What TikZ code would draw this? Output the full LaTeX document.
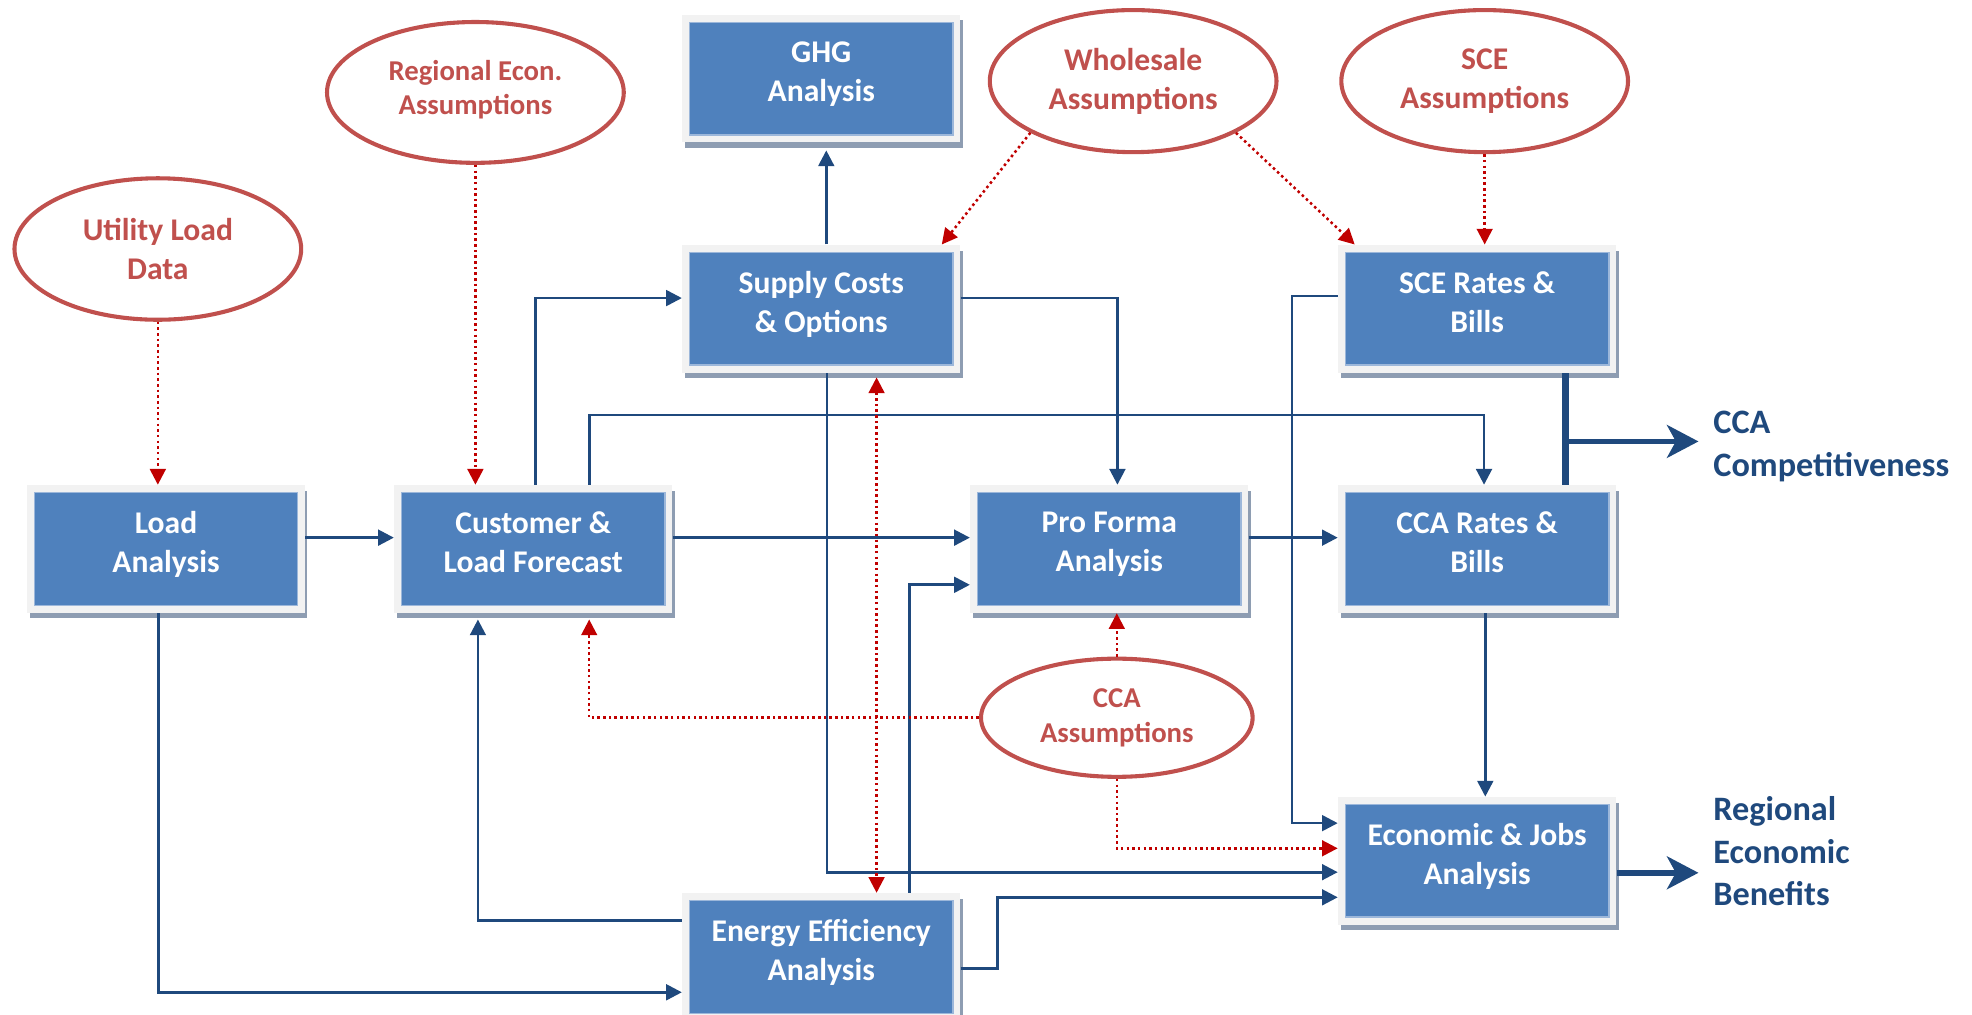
\documentclass[tikz,border=0pt]{standalone}
\usepackage{fontspec}
\setmainfont{Carlito}
\usetikzlibrary{shapes.geometric,arrows.meta,shadows,calc}
\definecolor{boxblue}{HTML}{4F81BD}
\definecolor{boxedge}{HTML}{9CB7DA}
\definecolor{framegray}{HTML}{F2F2F2}
\definecolor{shadowc}{HTML}{8E9DB2}
\definecolor{ellred}{HTML}{C0504D}
\definecolor{dotred}{HTML}{C00000}
\definecolor{flowblue}{HTML}{1F497D}
\begin{document}
\begin{tikzpicture}[x=0.02cm,y=-0.02cm,
  >={Triangle[length=0.25cm,width=0.25cm]},
  stepbox/.style={rectangle, inner sep=0pt, minimum width=4.42cm, minimum height=2.03cm, fill=framegray,
    drop shadow={shadow xshift=0.04cm, shadow yshift=-0.09cm, fill=shadowc, opacity=1},
    path picture={\fill[boxblue, draw=boxedge, line width=0.6pt] ([shift={(0.115cm,0.12cm)}]path picture bounding box.south west) rectangle ([shift={(-0.115cm,-0.12cm)}]path picture bounding box.north east);},
    text=white, font=\bfseries\fontsize{14.3}{17.6}\selectfont, align=center,
    execute at begin node=\strut, execute at end node={\rule[-6.3pt]{0pt}{1pt}}},
  assume/.style={ellipse, draw=ellred, line width=0.065cm, fill=white, inner sep=0pt, text=ellred,
    font=\bfseries\fontsize{14.3}{17.6}\selectfont, align=center},
  smallfont/.style={font=\bfseries\fontsize{13}{15.6}\selectfont},
  flow/.style={draw=flowblue, line width=0.042cm, ->},
  dotflow/.style={draw=dotred, line width=0.04cm, dash pattern=on 0.04cm off 0.05cm, ->},
  bigflow/.style={draw=flowblue, line width=0.09cm, -{Stealth[length=0.5cm,width=0.52cm,inset=0.14cm]}},
  outlabel/.style={text=flowblue, font=\bfseries\fontsize{15.5}{19.3}\selectfont, align=left, anchor=west, inner sep=0pt}
]
\useasboundingbox (0,0) rectangle (1568,807);
\clip (0,0) rectangle (1568,807);

% boxes
\node[stepbox] (ghg) at (653,62.5) {GHG\\Analysis};
\node[stepbox] (supply) at (653,245.5) {Supply Costs\\\& Options};
\node[stepbox] (load) at (132,436.5) {Load\\Analysis};
\node[stepbox] (cust) at (424,436.5) {Customer \&\\Load Forecast};
\node[stepbox] (pro) at (882,436.5) {Pro Forma\\Analysis};
\node[stepbox] (scer) at (1174.5,245.5) {SCE Rates \&\\Bills};
\node[stepbox] (ccar) at (1174.5,436.5) {CCA Rates \&\\Bills};
\node[stepbox] (econ) at (1174.5,684.5) {Economic \& Jobs\\Analysis};
\node[stepbox] (ee) at (653,761) {Energy Efficiency\\Analysis};

% assumption ellipses
\node[assume, minimum width=4.56cm, minimum height=2.25cm] (util) at (125.5,198) {Utility Load\\Data};
\node[assume, smallfont, minimum width=4.72cm, minimum height=2.24cm] (reg) at (378,73.5) {Regional Econ.\\Assumptions\rule[-4.7pt]{0pt}{1pt}};
\node[assume, minimum width=4.56cm, minimum height=2.26cm] (whole) at (901,64.5) {Wholesale\\Assumptions};
\node[assume, minimum width=4.56cm, minimum height=2.26cm] (scea) at (1180.5,64.5) {SCE\\Assumptions};
\node[assume, smallfont, minimum width=4.32cm, minimum height=1.88cm] (ccaa) at (888,570.7) {CCA\\Assumptions};

% output labels
\node[outlabel] (comp) at (1362,355) {CCA\\Competitiveness};
\node[outlabel] (benef) at (1362,677) {Regional\\Economic\\Benefits};

% blue flows
\draw[flow] ([yshift=0.18cm]load.east) -- ([yshift=0.18cm]cust.west);
\draw[flow] ([yshift=0.18cm]cust.east) -- ([yshift=0.18cm]pro.west);
\draw[flow] ([yshift=0.18cm]pro.east) -- ([yshift=0.18cm]ccar.west);
\draw[flow] ([xshift=0.04cm]cust.north) |- ([yshift=0.17cm]supply.west);
\draw[flow] ([xshift=0.89cm]cust.north) -- ++(0,-55.5) -| ([xshift=0.11cm]ccar.north);
\draw[flow] ([yshift=0.17cm]supply.east) -| ([xshift=0.13cm]pro.north);
\draw[flow, shorten >=0.12cm] ([xshift=0.08cm]supply.north) -- ([xshift=0.08cm]ghg.south);
\draw[flow] ([xshift=0.09cm]supply.south) |- ([yshift=-0.18cm]econ.west);
\draw[flow] ([yshift=0.2cm]scer.west) -- ++(-36.5,0) |- ([yshift=0.6cm]econ.west);
\draw[flow] ([xshift=0.13cm]ccar.south) -- ([xshift=0.13cm]econ.north);
\draw[flow] ([xshift=1.4cm]ee.north) |- ([yshift=-0.57cm]pro.west);
\draw[flow, shorten >=0.1cm] ([yshift=0.58cm]ee.west) -| ([xshift=-0.88cm]cust.south);
\draw[flow] ([xshift=-0.12cm]load.south) |- ([yshift=-0.56cm]ee.west);
\draw[flow] ([yshift=-0.18cm]ee.east) -- ++(29.5,0) |- ([yshift=-0.58cm]econ.west);

% thick outputs
\draw[draw=flowblue, line width=0.11cm] ([xshift=1.41cm]scer.south) -- ([xshift=1.41cm]ccar.north);
\coordinate (cj) at (1245,351);
\draw[bigflow, shorten >=0.23cm] (cj) -- (cj -| comp.west);
\path ([yshift=-0.19cm]econ.east) coordinate (eo);
\draw[bigflow, shorten >=0.23cm] (eo) -- (eo -| benef.west);

% red dotted
\draw[dotflow] (util.south) -- (util.south |- load.north);
\draw[dotflow] (reg.south) -- (reg.south |- cust.north);
\draw[dotflow] (whole.south west) -- ([xshift=-0.3cm]supply.north east);
\draw[dotflow] (whole.south east) -- ([xshift=0.27cm]scer.north west);
\draw[dotflow] (scea.south) -- (scea.south |- scer.north);
\draw[dotflow] (ccaa.north) -- (ccaa.north |- pro.south);
\draw[dotflow, shorten >=0.1cm] (ccaa.west) -| ([xshift=0.89cm]cust.south);
\draw[dotflow, <->, shorten <=0.07cm] ([xshift=0.88cm]supply.south) -- ([xshift=0.88cm]ee.north);
\draw[dotflow] (ccaa.south) |- ([yshift=0.2cm]econ.west);
\end{tikzpicture}
\end{document}
